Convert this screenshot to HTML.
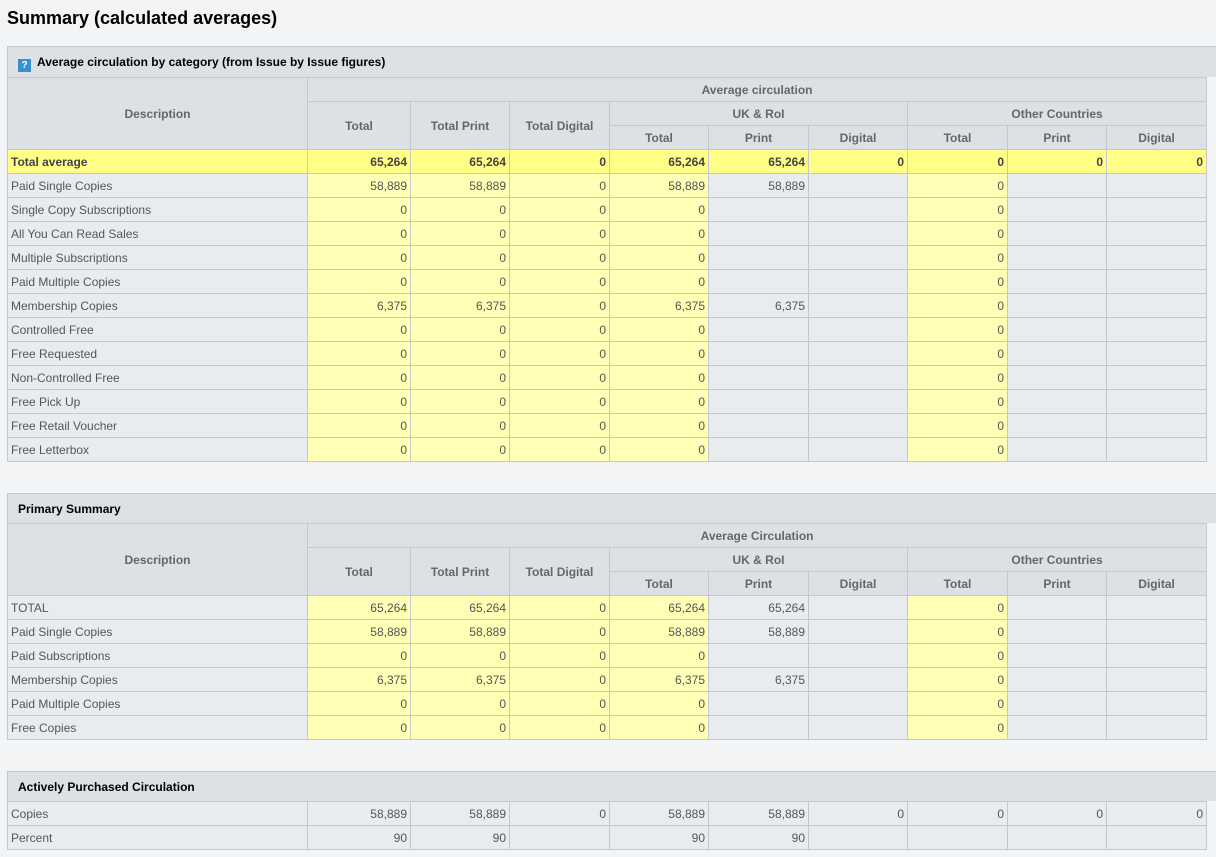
<!DOCTYPE html>
<html><head><meta charset="utf-8"><style>
body{margin:0;background:#f3f4f6;font-family:"Liberation Sans",Arial,sans-serif;width:1216px;height:857px;overflow:hidden;position:relative}
h1{position:absolute;left:7px;top:8px;margin:0;font-size:18px;font-weight:bold;color:#000}
.sec{position:absolute;left:7px;width:1209px}
.bar{height:31px;background:#dde1e5;border:1px solid #c4c8cc;border-right:none;border-bottom:none;box-sizing:border-box;font-size:12px;font-weight:bold;color:#000;line-height:30px;padding-left:10px}
.bar.s{height:30px;line-height:30px}
.q{display:inline-block;width:13px;height:13px;background:#3a8fd0;color:#fff;font-size:10px;line-height:13px;text-align:center;vertical-align:-2px;margin-right:6px}
table{border-collapse:collapse;table-layout:fixed;width:1199px;font-size:12px;color:#555}
td,th{border:1px solid #c4c8cc;height:24px;padding:0 3px;box-sizing:border-box;overflow:hidden;white-space:nowrap}
th{background:#dde1e5;font-weight:bold;color:#666;text-align:center}
td{background:#e9ecef;text-align:right}
td.d{text-align:left}
td.y{background:#ffffb5}
tr.t td{background:#ffff88;font-weight:bold;color:#444}
</style></head><body>
<h1>Summary (calculated averages)</h1>

<div class="sec" style="top:46px">
<div class="bar"><span class="q">?</span>Average circulation by category (from Issue by Issue figures)</div>
<table>
<colgroup><col style="width:300px"><col style="width:103px"><col style="width:99px"><col style="width:100px"><col style="width:99px"><col style="width:100px"><col style="width:99px"><col style="width:100px"><col style="width:99px"><col style="width:100px"></colgroup>
<tr><th rowspan="3">Description</th><th colspan="9">Average circulation</th></tr>
<tr><th rowspan="2">Total</th><th rowspan="2">Total Print</th><th rowspan="2">Total Digital</th><th colspan="3">UK &amp; RoI</th><th colspan="3">Other Countries</th></tr>
<tr><th>Total</th><th>Print</th><th>Digital</th><th>Total</th><th>Print</th><th>Digital</th></tr>
<tr class="t"><td class="d">Total average</td><td>65,264</td><td>65,264</td><td>0</td><td>65,264</td><td>65,264</td><td>0</td><td>0</td><td>0</td><td>0</td></tr>
<tr><td class="d">Paid Single Copies</td><td class="y">58,889</td><td class="y">58,889</td><td class="y">0</td><td class="y">58,889</td><td>58,889</td><td></td><td class="y">0</td><td></td><td></td></tr>
<tr><td class="d">Single Copy Subscriptions</td><td class="y">0</td><td class="y">0</td><td class="y">0</td><td class="y">0</td><td></td><td></td><td class="y">0</td><td></td><td></td></tr>
<tr><td class="d">All You Can Read Sales</td><td class="y">0</td><td class="y">0</td><td class="y">0</td><td class="y">0</td><td></td><td></td><td class="y">0</td><td></td><td></td></tr>
<tr><td class="d">Multiple Subscriptions</td><td class="y">0</td><td class="y">0</td><td class="y">0</td><td class="y">0</td><td></td><td></td><td class="y">0</td><td></td><td></td></tr>
<tr><td class="d">Paid Multiple Copies</td><td class="y">0</td><td class="y">0</td><td class="y">0</td><td class="y">0</td><td></td><td></td><td class="y">0</td><td></td><td></td></tr>
<tr><td class="d">Membership Copies</td><td class="y">6,375</td><td class="y">6,375</td><td class="y">0</td><td class="y">6,375</td><td>6,375</td><td></td><td class="y">0</td><td></td><td></td></tr>
<tr><td class="d">Controlled Free</td><td class="y">0</td><td class="y">0</td><td class="y">0</td><td class="y">0</td><td></td><td></td><td class="y">0</td><td></td><td></td></tr>
<tr><td class="d">Free Requested</td><td class="y">0</td><td class="y">0</td><td class="y">0</td><td class="y">0</td><td></td><td></td><td class="y">0</td><td></td><td></td></tr>
<tr><td class="d">Non-Controlled Free</td><td class="y">0</td><td class="y">0</td><td class="y">0</td><td class="y">0</td><td></td><td></td><td class="y">0</td><td></td><td></td></tr>
<tr><td class="d">Free Pick Up</td><td class="y">0</td><td class="y">0</td><td class="y">0</td><td class="y">0</td><td></td><td></td><td class="y">0</td><td></td><td></td></tr>
<tr><td class="d">Free Retail Voucher</td><td class="y">0</td><td class="y">0</td><td class="y">0</td><td class="y">0</td><td></td><td></td><td class="y">0</td><td></td><td></td></tr>
<tr><td class="d">Free Letterbox</td><td class="y">0</td><td class="y">0</td><td class="y">0</td><td class="y">0</td><td></td><td></td><td class="y">0</td><td></td><td></td></tr>
</table>
</div>

<div class="sec" style="top:493px">
<div class="bar s">Primary Summary</div>
<table>
<colgroup><col style="width:300px"><col style="width:103px"><col style="width:99px"><col style="width:100px"><col style="width:99px"><col style="width:100px"><col style="width:99px"><col style="width:100px"><col style="width:99px"><col style="width:100px"></colgroup>
<tr><th rowspan="3">Description</th><th colspan="9">Average Circulation</th></tr>
<tr><th rowspan="2">Total</th><th rowspan="2">Total Print</th><th rowspan="2">Total Digital</th><th colspan="3">UK &amp; RoI</th><th colspan="3">Other Countries</th></tr>
<tr><th>Total</th><th>Print</th><th>Digital</th><th>Total</th><th>Print</th><th>Digital</th></tr>
<tr><td class="d">TOTAL</td><td class="y">65,264</td><td class="y">65,264</td><td class="y">0</td><td class="y">65,264</td><td>65,264</td><td></td><td class="y">0</td><td></td><td></td></tr>
<tr><td class="d">Paid Single Copies</td><td class="y">58,889</td><td class="y">58,889</td><td class="y">0</td><td class="y">58,889</td><td>58,889</td><td></td><td class="y">0</td><td></td><td></td></tr>
<tr><td class="d">Paid Subscriptions</td><td class="y">0</td><td class="y">0</td><td class="y">0</td><td class="y">0</td><td></td><td></td><td class="y">0</td><td></td><td></td></tr>
<tr><td class="d">Membership Copies</td><td class="y">6,375</td><td class="y">6,375</td><td class="y">0</td><td class="y">6,375</td><td>6,375</td><td></td><td class="y">0</td><td></td><td></td></tr>
<tr><td class="d">Paid Multiple Copies</td><td class="y">0</td><td class="y">0</td><td class="y">0</td><td class="y">0</td><td></td><td></td><td class="y">0</td><td></td><td></td></tr>
<tr><td class="d">Free Copies</td><td class="y">0</td><td class="y">0</td><td class="y">0</td><td class="y">0</td><td></td><td></td><td class="y">0</td><td></td><td></td></tr>
</table>
</div>

<div class="sec" style="top:771px">
<div class="bar s">Actively Purchased Circulation</div>
<table>
<colgroup><col style="width:300px"><col style="width:103px"><col style="width:99px"><col style="width:100px"><col style="width:99px"><col style="width:100px"><col style="width:99px"><col style="width:100px"><col style="width:99px"><col style="width:100px"></colgroup>
<tr><td class="d">Copies</td><td>58,889</td><td>58,889</td><td>0</td><td>58,889</td><td>58,889</td><td>0</td><td>0</td><td>0</td><td>0</td></tr>
<tr><td class="d">Percent</td><td>90</td><td>90</td><td></td><td>90</td><td>90</td><td></td><td></td><td></td><td></td></tr>
</table>
</div>
</body></html>
